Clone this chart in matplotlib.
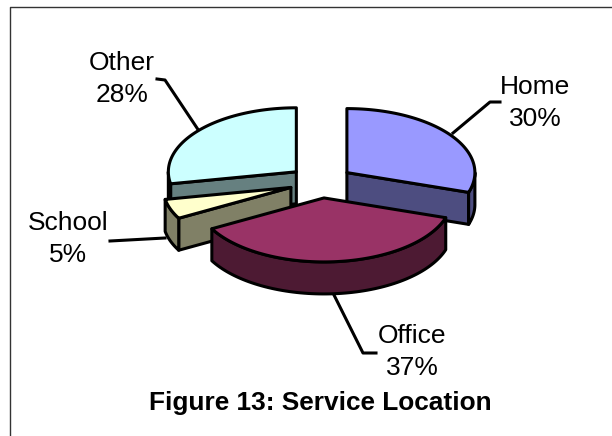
import numpy as np
import matplotlib
matplotlib.use('Agg')
import matplotlib.pyplot as plt
from matplotlib.patches import Polygon

plt.rcParams['font.family'] = ['Liberation Sans', 'DejaVu Sans']

labels = ['Home', 'Office', 'School', 'Other']
shares = [30, 37, 5, 28]
top_colors = ['#9999FF', '#993366', '#FFFFCC', '#CCFFFF']
side_colors = ['#4D4D80', '#4D1A33', '#808066', '#668080']

# pie geometry in pixels
cx, cy = 321, 182
rx, ry = 128, 64
depth = 32
explode = 0.25
lw = 2.2

# label text anchor and leader line for each slice, same order as labels
label_pos = [(535, 103), (412, 352), (68, 239), (122, 79)]
leaders = [
    [(453, 133), (490, 102), (500, 102)],
    [(333, 293), (363, 353), (376, 353)],
    [(165, 238), (110, 241)],
    [(199, 131), (165, 80), (157, 79)],
]


def rim(ax0, ay0, a, b):
    t = np.radians(np.linspace(a, b, 80))
    return np.column_stack([ax0 + rx * np.sin(t), ay0 - ry * np.cos(t)])


def draw_slice(ax, i, a, b, z):
    mid = np.radians((a + b) / 2)
    ax0 = cx + explode * rx * np.sin(mid)
    ay0 = cy - explode * ry * np.cos(mid)
    apex = np.array([ax0, ay0])
    down = np.array([0, depth])
    style = dict(edgecolor='black', linewidth=lw, joinstyle='round', zorder=z)

    # cut faces, only the ones turned to the viewer
    faces = []
    if 180 < a < 360:
        faces.append(a)
    if 0 < b < 180:
        faces.append(b)
    for ang in faces:
        p = rim(ax0, ay0, ang, ang)[0]
        quad = np.array([apex, p, p + down, apex + down])
        ax.add_patch(Polygon(quad, facecolor=side_colors[i], **style))

    # outer wall, front half of the rim only
    lo, hi = max(a, 90), min(b, 270)
    if lo < hi:
        front = rim(ax0, ay0, lo, hi)
        wall = np.vstack([front, front[::-1] + down])
        ax.add_patch(Polygon(wall, facecolor=side_colors[i], **style))

    top = np.vstack([apex, rim(ax0, ay0, a, b)])
    ax.add_patch(Polygon(top, facecolor=top_colors[i], **style))


fig = plt.figure(figsize=(6.12, 4.36), dpi=100)
ax = fig.add_axes([0, 0, 1, 1])
ax.set_xlim(0, 612)
ax.set_ylim(436, 0)
ax.axis('off')

# chart frame, only left and top show
ax.plot([10, 10, 612], [436, 7, 7], color='#333333', lw=1.0, zorder=1)

edges = np.cumsum([0] + shares) * 3.6
spans = [(edges[i], edges[i + 1], i) for i in range(len(shares))]
# back slices first, front slice last
for z, (a, b, i) in enumerate([spans[3], spans[2], spans[0], spans[1]]):
    draw_slice(ax, i, a, b, 2 + z)

for i, name in enumerate(labels):
    x, y = label_pos[i]
    ax.text(x, y, f'{name}\n{shares[i]}%', ha='center', va='center', fontsize=19,
            linespacing=1.42, color='black', zorder=8)
    pts = np.array(leaders[i])
    ax.plot(pts[:, 0], pts[:, 1], color='black', lw=lw, solid_joinstyle='round', zorder=1.5)

ax.text(320, 403, 'Figure 13: Service Location', ha='center', va='center',
        fontsize=18.9, fontweight='bold', color='black', zorder=8)

fig.savefig('out.png', dpi=100)
